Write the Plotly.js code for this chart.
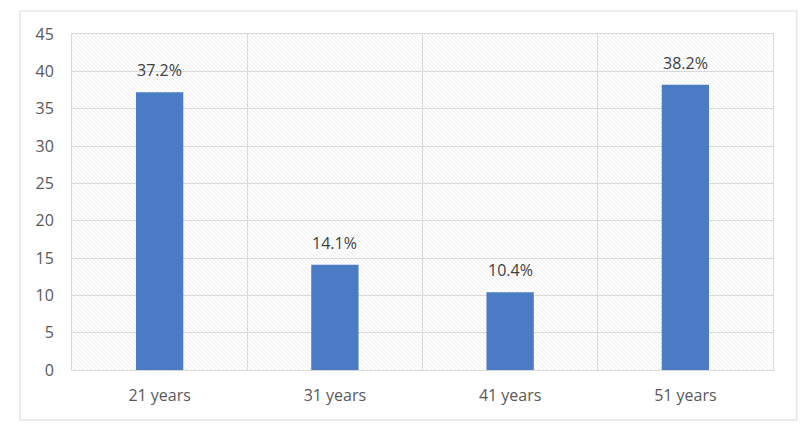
<!DOCTYPE html>
<html>
<head>
<meta charset="utf-8">
<script src="https://cdn.plot.ly/plotly-3.0.1.min.js"></script>
<style>html,body{margin:0;padding:0;background:#fff;}#chart{width:800px;height:438px;}</style>
</head>
<body>
<div id="chart"></div>
<script>
const categories = ["21 years", "31 years", "41 years", "51 years"];
const values = [37.2, 14.1, 10.4, 38.2];
const labels = ["37.2%", "14.1%", "10.4%", "38.2%"];
const yTicks = [0, 5, 10, 15, 20, 25, 30, 35, 40, 45];

const hatchSvg = '<svg xmlns="http://www.w3.org/2000/svg" width="701" height="336">' +
  '<defs><pattern id="p" width="4" height="4" patternUnits="userSpaceOnUse">' +
  '<rect width="4" height="4" fill="#ffffff"/>' +
  '<path d="M-1,-1 L5,5 M-1,3 L1,5 M3,-1 L5,1" stroke="#e8e8e8" stroke-width="0.8"/>' +
  '</pattern></defs><rect width="701" height="336" fill="url(#p)"/></svg>';
const hatchUri = 'data:image/svg+xml;base64,' + btoa(hatchSvg);

const trace = {
  type: 'bar',
  x: categories,
  y: values,
  marker: {color: '#4a7bc4'},
  width: 0.27,
  hoverinfo: 'x+y'
};

const annotations = categories.map((c, i) => ({
  x: c, y: values[i], xref: 'x', yref: 'y',
  text: labels[i], showarrow: false,
  yanchor: 'bottom', yshift: 9,
  font: {family: 'Open Sans, sans-serif', size: 16, color: '#404040'}
}));

const layout = {
  width: 800,
  height: 438,
  margin: {l: 72, r: 27, t: 34, b: 68},
  paper_bgcolor: '#ffffff',
  plot_bgcolor: 'rgba(0,0,0,0)',
  showlegend: false,
  font: {family: 'Open Sans, sans-serif', size: 16, color: '#595959'},
  xaxis: {
    type: 'category',
    tickson: 'boundaries',
    showgrid: true,
    gridcolor: '#d9d9d9',
    gridwidth: 1,
    showline: true,
    linecolor: '#d9d9d9',
    mirror: true,
    ticks: '',
    ticklabelstandoff: 11,
    tickfont: {size: 16, color: '#595959'},
    zeroline: false
  },
  yaxis: {
    range: [0, 45],
    tickvals: yTicks,
    showgrid: true,
    gridcolor: '#d9d9d9',
    gridwidth: 1,
    showline: true,
    linecolor: '#d9d9d9',
    mirror: true,
    ticks: '',
    ticklabelstandoff: 14,
    tickfont: {size: 16, color: '#595959'},
    zeroline: false
  },
  annotations: annotations,
  images: [{
    source: hatchUri,
    xref: 'paper', yref: 'paper',
    x: 0, y: 1, sizex: 1, sizey: 1,
    xanchor: 'left', yanchor: 'top',
    sizing: 'stretch',
    layer: 'below'
  }],
  shapes: [{
    type: 'rect',
    xref: 'paper', yref: 'paper',
    x0: -0.0742, x1: 1.034, y0: -0.1488, y1: 1.0685,
    line: {color: '#d9d9d9', width: 1},
    fillcolor: 'rgba(0,0,0,0)',
    layer: 'below'
  }]
};

Plotly.newPlot('chart', [trace], layout, {displayModeBar: false, staticPlot: true});
</script>
</body>
</html>
